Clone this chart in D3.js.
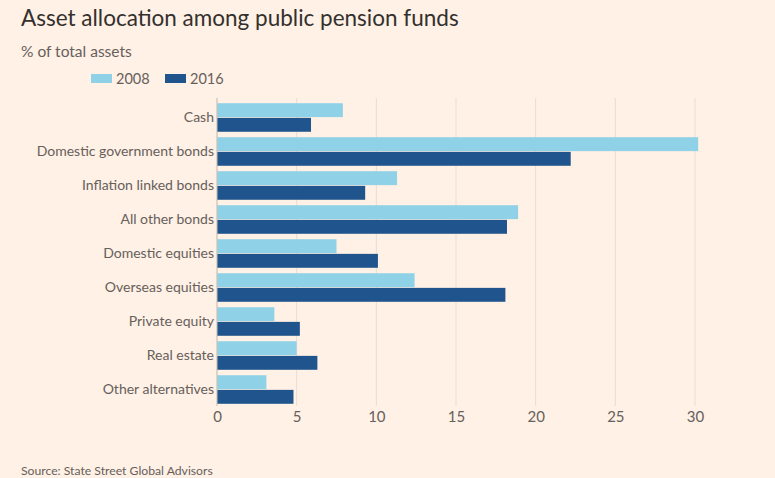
<!DOCTYPE html>
<html>
<head>
<meta charset="utf-8">
<script src="https://cdn.jsdelivr.net/npm/d3@7"></script>
<style>
  body { margin: 0; background: #fff1e5; }
  svg { display: block; font-family: Lato, "Noto Sans", sans-serif; }
</style>
</head>
<body>
<div id="chart"></div>
<script>
const categories = [
  "Cash",
  "Domestic government bonds",
  "Inflation linked bonds",
  "All other bonds",
  "Domestic equities",
  "Overseas equities",
  "Private equity",
  "Real estate",
  "Other alternatives"
];
const seriesNames = ["2008", "2016"];
const values2008 = [7.9, 30.2, 11.3, 18.9, 7.5, 12.4, 3.6, 5.0, 3.1];
const values2016 = [5.9, 22.2, 9.3, 18.2, 10.1, 18.1, 5.2, 6.3, 4.8];
const xTicks = [0, 5, 10, 15, 20, 25, 30];

const width = 775, height = 478;
const margin = { top: 101, right: 80, bottom: 72, left: 217 };
const colors = { "2008": "#8fd2e8", "2016": "#1f558c" };
const textGrey = "#66605c";
const font = "Lato, Noto Sans, sans-serif";

const svg = d3.select("#chart").append("svg")
  .attr("width", width)
  .attr("height", height);

svg.append("rect").attr("width", width).attr("height", height).attr("fill", "#fff1e5");

// title block
svg.append("text").attr("x", 21).attr("y", 26)
  .attr("font-size", 22.5).attr("fill", "#33302e")
  .text("Asset allocation among public pension funds");
svg.append("text").attr("x", 21).attr("y", 57)
  .attr("font-size", 15.5).attr("fill", textGrey)
  .text("% of total assets");

const x = d3.scaleLinear().domain([0, 30]).range([margin.left, 695]);
const y = d3.scaleBand().domain(categories)
  .range([margin.top, height - margin.bottom])
  .paddingInner(0.16).paddingOuter(0.065);
const ySub = d3.scaleBand().domain(seriesNames).range([0, y.bandwidth()]).paddingInner(0.05);

// gridlines
svg.append("g").selectAll("line").data(xTicks).join("line")
  .attr("x1", d => x(d)).attr("x2", d => x(d))
  .attr("y1", 98).attr("y2", height - margin.bottom)
  .attr("stroke", "#e9ddd3").attr("stroke-width", 1);

// x axis labels
const xAxis = d3.axisBottom(x).tickValues(xTicks).tickSize(0).tickPadding(5);
const gx = svg.append("g")
  .attr("transform", `translate(0,${height - margin.bottom})`)
  .call(xAxis);
gx.select(".domain").remove();
gx.selectAll("text").attr("font-size", 15).attr("fill", textGrey)
  .attr("font-family", font);

// bars
const rows = categories.map((c, i) => ({ cat: c, vals: [
  { key: "2008", v: values2008[i] },
  { key: "2016", v: values2016[i] }
] }));

const groups = svg.append("g").selectAll("g").data(rows).join("g")
  .attr("transform", d => `translate(0,${y(d.cat)})`);
groups.selectAll("rect").data(d => d.vals).join("rect")
  .attr("x", x(0))
  .attr("y", d => ySub(d.key))
  .attr("width", d => x(d.v) - x(0))
  .attr("height", ySub.bandwidth())
  .attr("fill", d => colors[d.key]);

// zero baseline
svg.append("line")
  .attr("x1", x(0)).attr("x2", x(0))
  .attr("y1", 98).attr("y2", height - margin.bottom)
  .attr("stroke", "#ccc1b7").attr("stroke-width", 1);

// y axis labels
const yAxis = d3.axisLeft(y).tickSize(0).tickPadding(3);
const gy = svg.append("g").attr("transform", `translate(${x(0)},0)`).call(yAxis);
gy.select(".domain").remove();
gy.selectAll("text").attr("font-size", 14).attr("fill", textGrey)
  .attr("font-family", font);

// legend
const legend = svg.append("g").selectAll("g").data(seriesNames).join("g")
  .attr("transform", (d, i) => `translate(${91 + i * 74},74)`);
legend.append("rect").attr("width", 21).attr("height", 9)
  .attr("fill", d => colors[d]);
legend.append("text").attr("x", 25).attr("y", 10)
  .attr("font-size", 14.5).attr("fill", textGrey).text(d => d);

// source
svg.append("text").attr("x", 21).attr("y", 475)
  .attr("font-size", 12.2).attr("fill", textGrey)
  .text("Source: State Street Global Advisors");
</script>
</body>
</html>
